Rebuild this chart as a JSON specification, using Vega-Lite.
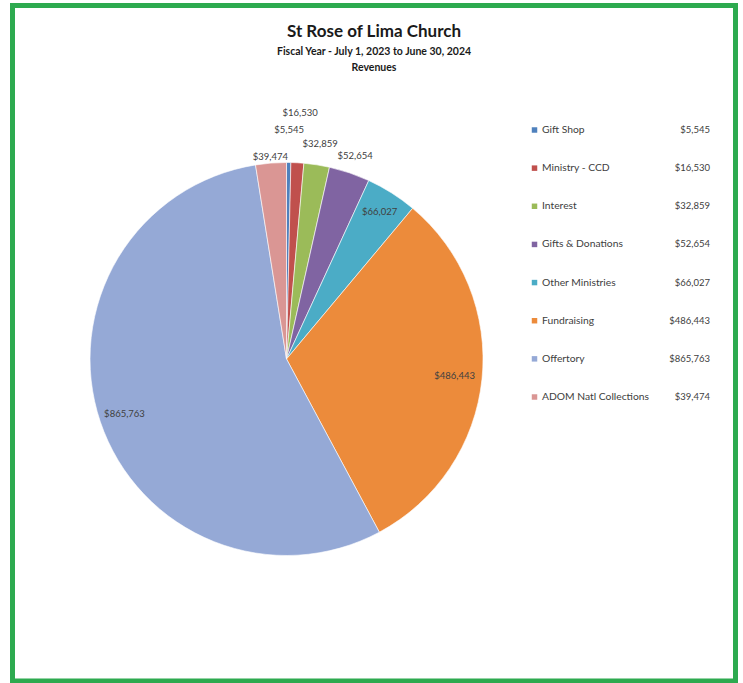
{
  "$schema": "https://vega.github.io/schema/vega-lite/v6.json",
  "autosize": {"type": "fit", "contains": "padding"},
  "width": 743,
  "height": 683,
  "padding": {"left": 12.5, "top": 5.5, "right": 7.5, "bottom": 2},
  "background": "white",
  "config": {
    "view": {"stroke": "#2DAA4F", "strokeWidth": 5},
    "font": "Lato"
  },
  "title": {
    "text": "St Rose of Lima Church",
    "subtitle": ["Fiscal Year - July 1, 2023 to June 30, 2024", "Revenues"],
    "anchor": "middle",
    "font": "Lato",
    "fontSize": 17,
    "fontWeight": "bold",
    "color": "#1a1a1a",
    "subtitleFont": "Lato",
    "subtitleFontSize": 10.5,
    "subtitleFontWeight": "bold",
    "subtitleColor": "#1a1a1a",
    "subtitlePadding": 6,
    "subtitleLineHeight": 16,
    "offset": -69
  },
  "datasets": {
    "rev": [
      {"idx": 1, "category": "Gift Shop", "amount": 5545},
      {"idx": 2, "category": "Ministry - CCD", "amount": 16530},
      {"idx": 3, "category": "Interest", "amount": 32859},
      {"idx": 4, "category": "Gifts & Donations", "amount": 52654},
      {"idx": 5, "category": "Other Ministries", "amount": 66027},
      {"idx": 6, "category": "Fundraising", "amount": 486443},
      {"idx": 7, "category": "Offertory", "amount": 865763},
      {"idx": 8, "category": "ADOM  Natl Collections", "amount": 39474}
    ]
  },
  "data": {"name": "rev"},
  "layer": [
    {
      "mark": {
        "type": "arc",
        "outerRadius": 196.5,
        "x": {"expr": "width*0.379"},
        "y": {"expr": "height*0.5233"},
        "stroke": "white",
        "strokeWidth": 0.6
      },
      "encoding": {
        "theta": {"field": "amount", "type": "quantitative", "stack": true},
        "order": {"field": "idx", "type": "quantitative"},
        "color": {
          "field": "category",
          "type": "nominal",
          "scale": {
            "domain": ["Gift Shop", "Ministry - CCD", "Interest", "Gifts & Donations", "Other Ministries", "Fundraising", "Offertory", "ADOM  Natl Collections"],
            "range": ["#4F81BD", "#C0504D", "#9BBB59", "#8064A2", "#4BACC6", "#EC8B3B", "#95A9D6", "#DA9694"]
          },
          "legend": null
        }
      }
    },
    {
      "mark": {
        "type": "text",
        "x": {"expr": "width*0.379"},
        "y": {"expr": "height*0.5233"},
        "font": "Lato",
        "fontSize": 9.5,
        "color": "#404040",
        "align": "center",
        "baseline": "middle"
      },
      "encoding": {
        "theta": {"field": "amount", "type": "quantitative", "stack": true},
        "order": {"field": "idx", "type": "quantitative"},
        "detail": {"field": "category", "type": "nominal"},
        "radius": {
          "field": "amount",
          "type": "quantitative",
          "scale": {
            "type": "linear",
            "domain": [5545, 16530, 32859, 39474, 52654, 66027, 486443, 865763],
            "range": [229, 246, 218, 203, 214, 174, 169, 171],
            "zero": false,
            "nice": false
          }
        },
        "text": {"field": "amount", "type": "quantitative", "format": "$,.0f"}
      }
    },
    {
      "mark": {
        "type": "point",
        "shape": "square",
        "filled": true,
        "opacity": 1,
        "size": 30,
        "x": {"expr": "width*0.722"}
      },
      "encoding": {
        "y": {
          "field": "category",
          "type": "nominal",
          "scale": {
            "type": "point",
            "domain": ["Gift Shop", "Ministry - CCD", "Interest", "Gifts & Donations", "Other Ministries", "Fundraising", "Offertory", "ADOM  Natl Collections"],
            "range": [124.5, 391.5],
            "padding": 0
          },
          "axis": null
        },
        "color": {"field": "category", "type": "nominal", "legend": null}
      }
    },
    {
      "mark": {
        "type": "text",
        "x": {"expr": "width*0.7324"},
        "align": "left",
        "baseline": "middle",
        "font": "Lato",
        "fontSize": 10.3,
        "color": "#404040"
      },
      "encoding": {
        "y": {"field": "category", "type": "nominal", "axis": null},
        "text": {"field": "category", "type": "nominal"}
      }
    },
    {
      "mark": {
        "type": "text",
        "x": {"expr": "width*0.9647"},
        "align": "right",
        "baseline": "middle",
        "font": "Lato",
        "fontSize": 9.5,
        "color": "#404040"
      },
      "encoding": {
        "y": {"field": "category", "type": "nominal", "axis": null},
        "text": {"field": "amount", "type": "quantitative", "format": "$,.0f"}
      }
    }
  ]
}
